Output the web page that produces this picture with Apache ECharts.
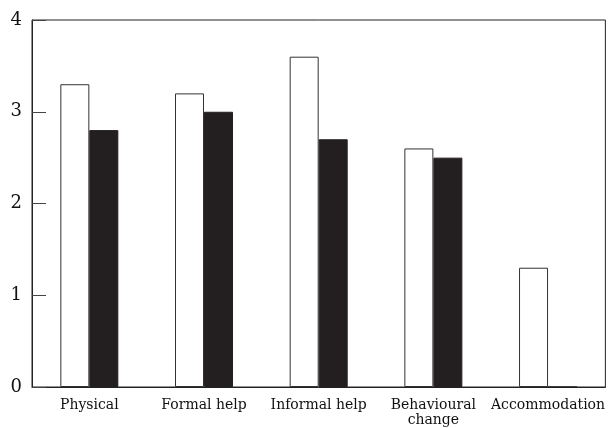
<!DOCTYPE html>
<html>
<head>
<meta charset="utf-8">
<script src="https://cdn.jsdelivr.net/npm/echarts@6/dist/echarts.min.js"></script>
<style>
html, body { margin: 0; padding: 0; background: #fff; }
#main { width: 608px; height: 428px; }
</style>
</head>
<body>
<div id="main"></div>
<script>
const categories = ['Physical', 'Formal help', 'Informal help', 'Behavioural\nchange', 'Accommodation']
const whiteValues = [3.3, 3.2, 3.6, 2.6, 1.3]
const blackValues = [2.8, 3.0, 2.7, 2.5, 0]
const yTicks = [0, 1, 2, 3, 4]

const font = '"DejaVu Serif", "Liberation Serif", serif'

let chart = echarts.init(document.querySelector('#main'))
let option = {
    animation: false,
    grid: {
        left: 32,
        right: 2,
        top: 20,
        bottom: 41,
        show: true,
        borderColor: '#222',
        borderWidth: 1,
    },
    xAxis: {
        type: 'category',
        data: categories,
        axisLine: { lineStyle: { color: '#222', width: 1 } },
        axisTick: { show: false },
        axisLabel: {
            color: '#111',
            fontFamily: font,
            fontSize: 14,
            margin: 11,
            lineHeight: 15,
            interval: 0,
        },
    },
    yAxis: {
        type: 'value',
        min: 0,
        max: 4,
        interval: 1,
        splitLine: { show: false },
        axisLine: { show: true, lineStyle: { color: '#222', width: 1 } },
        axisTick: { show: true, inside: true, length: 14, lineStyle: { color: '#444' } },
        axisLabel: {
            color: '#111',
            fontFamily: font,
            fontSize: 18,
            margin: 10,
            formatter: v => yTicks.includes(v) ? String(v) : '',
        },
    },
    series: [
        {
            type: 'bar',
            data: whiteValues,
            barWidth: 29,
            barGap: '0%',
            itemStyle: { color: '#fff', borderColor: '#333', borderWidth: 1 },
        },
        {
            type: 'bar',
            data: blackValues,
            barWidth: 29,
            barGap: '0%',
            itemStyle: { color: '#231f20', borderColor: '#231f20', borderWidth: 1 },
        },
    ],
}
chart.setOption(option)
</script>
</body>
</html>
